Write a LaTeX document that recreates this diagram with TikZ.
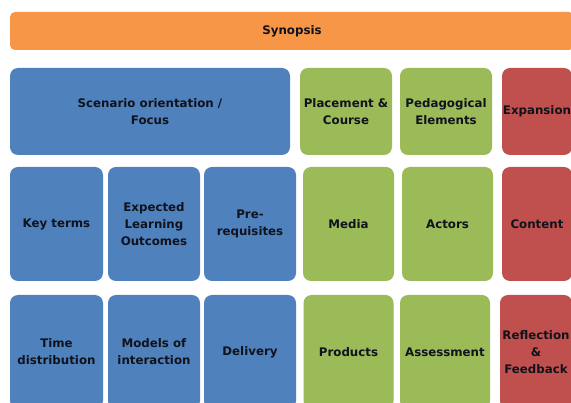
\documentclass[tikz,border=0pt]{standalone}
\usepackage{fontspec}
\setmainfont{DejaVu Sans}
\definecolor{synorange}{HTML}{F79646}
\definecolor{tileblue}{HTML}{4F81BD}
\definecolor{tilegreen}{HTML}{9BBB59}
\definecolor{tilered}{HTML}{C0504D}
\definecolor{tiletext}{HTML}{10121C}
\tikzset{
  tile/.style={rectangle, rounded corners=8pt, inner sep=0pt, align=center,
    text=tiletext, font=\fontsize{11.8}{16.8}\selectfont\bfseries},
  bluetile/.style={tile, fill=tileblue},
  greentile/.style={tile, fill=tilegreen},
  redtile/.style={tile, fill=tilered},
}
\begin{document}
\begin{tikzpicture}[x=1pt,y=-1pt]
\useasboundingbox (0,0) rectangle (571,403);
\clip (0,0) rectangle (571,403);
\fill[white] (0,0) rectangle (571,403);
% top band
\node[tile, fill=synorange, rounded corners=5pt, minimum width=564pt, minimum height=38pt] (syn) at (292,31) {Synopsis};
% row 1
\node[bluetile, minimum width=280pt, minimum height=87pt] (scen) at (150,111.5) {Scenario orientation /\\Focus};
\node[greentile, minimum width=92pt, minimum height=87pt] (place) at (346,111.5) {Placement \&\\Course};
\node[greentile, minimum width=92pt, minimum height=87pt] (peda) at (446,111.5) {Pedagogical\\Elements};
\node[redtile, minimum width=70pt, minimum height=87pt] (expa) at (537,111.5) {Expansion};
% row 2
\node[bluetile, minimum width=93pt, minimum height=114pt] (key) at (56.5,224) {Key terms};
\node[bluetile, minimum width=92pt, minimum height=114pt] (elo) at (154,224) {Expected\\Learning\\Outcomes};
\node[bluetile, minimum width=92pt, minimum height=114pt] (pre) at (250,224) {Pre-\\requisites};
\node[greentile, minimum width=91pt, minimum height=114pt] (media) at (348.5,224) {Media};
\node[greentile, minimum width=91pt, minimum height=114pt] (actors) at (447.5,224) {Actors};
\node[redtile, minimum width=70pt, minimum height=114pt] (content) at (537,224) {Content};
% row 3
\node[bluetile, minimum width=93pt, minimum height=114pt] (time) at (56.5,352) {Time\\distribution};
\node[bluetile, minimum width=92pt, minimum height=114pt] (models) at (154,352) {Models of\\interaction};
\node[bluetile, minimum width=92pt, minimum height=114pt] (deliv) at (250,352) {Delivery};
\node[greentile, minimum width=90pt, minimum height=114pt] (prod) at (348.5,352) {Products};
\node[greentile, minimum width=90pt, minimum height=114pt] (assess) at (445,352) {Assessment};
\node[redtile, minimum width=72pt, minimum height=114pt] (refl) at (536,352) {Reflection\\\&\\Feedback};
\end{tikzpicture}
\end{document}
